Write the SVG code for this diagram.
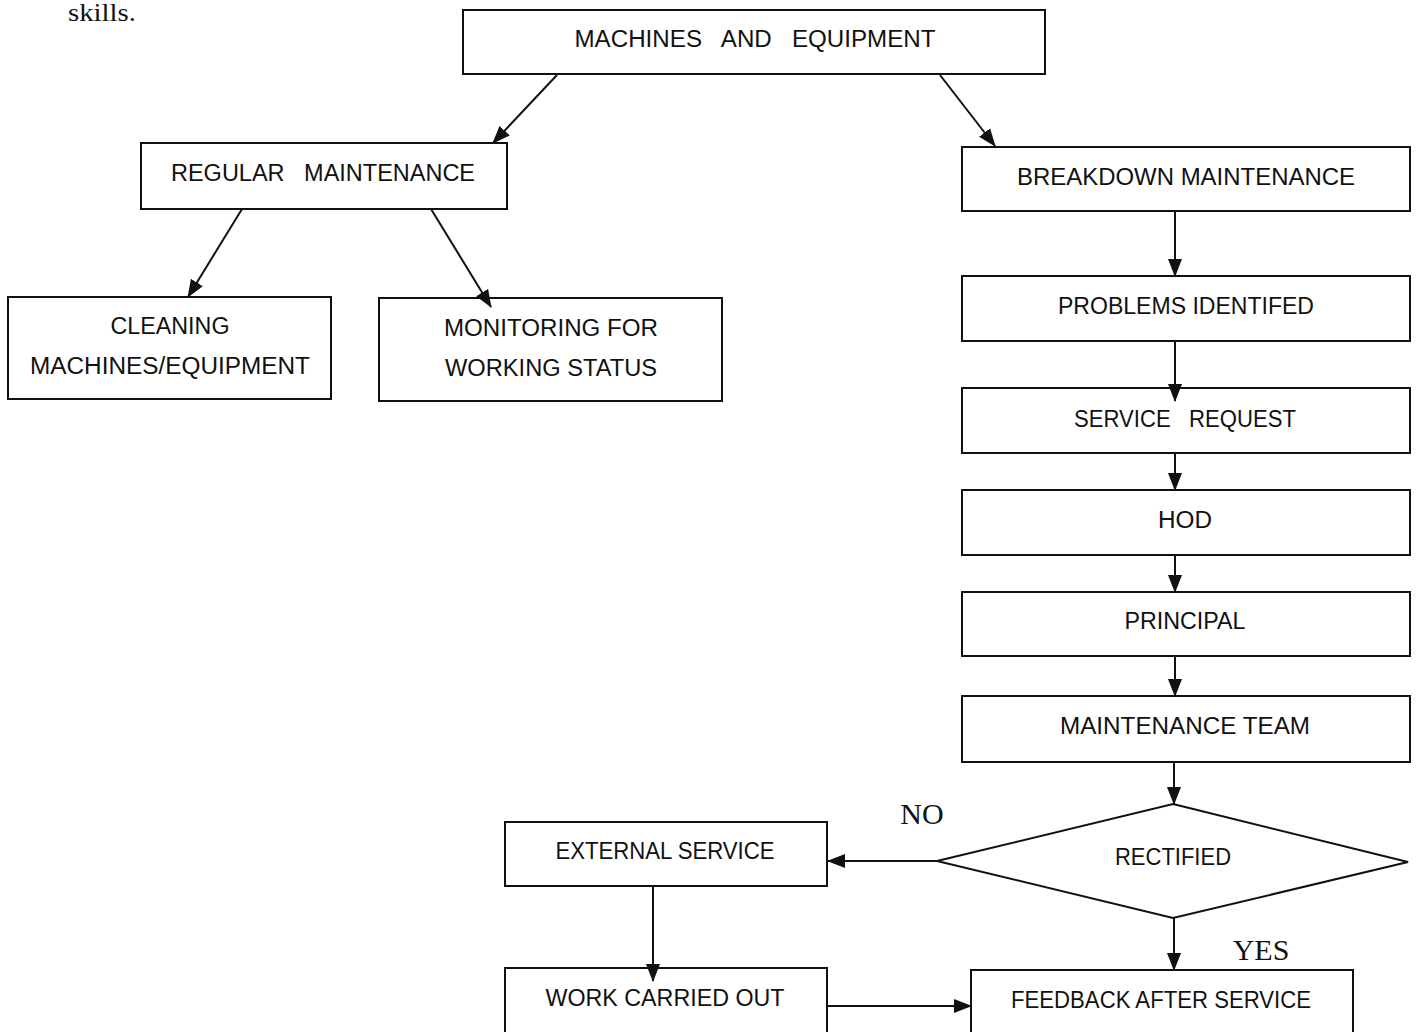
<svg xmlns="http://www.w3.org/2000/svg" width="1417" height="1032" viewBox="0 0 1417 1032">
<style>
.box{fill:#fff;stroke:#111;stroke-width:2}
.t{font-family:"Liberation Sans",Arial,sans-serif;font-size:23px;fill:#111;text-anchor:middle}
.s{font-family:"Liberation Serif","Times New Roman",serif;font-size:30px;fill:#111;text-anchor:middle}
.c{stroke:#111;stroke-width:2;fill:none;marker-end:url(#ah)}
</style>
<defs>
<marker id="ah" markerUnits="userSpaceOnUse" markerWidth="18" markerHeight="16" refX="17" refY="8" orient="auto">
<path d="M0,1 L18,8 L0,15 Z" fill="#111"/>
</marker>
</defs>
<rect width="1417" height="1032" fill="#fff"/>
<text x="68" y="21" font-family="Liberation Serif, serif" font-size="26" fill="#111" textLength="68" lengthAdjust="spacingAndGlyphs">skills.</text>
<g id="n-machines"><rect class="box" x="463" y="10" width="582" height="64"/><text class="t" x="755" y="47" textLength="361" lengthAdjust="spacingAndGlyphs" xml:space="preserve">MACHINES   AND   EQUIPMENT</text></g>
<g id="n-regular"><rect class="box" x="141" y="143" width="366" height="66"/><text class="t" x="323" y="181" textLength="304" lengthAdjust="spacingAndGlyphs" xml:space="preserve">REGULAR   MAINTENANCE</text></g>
<g id="n-cleaning"><rect class="box" x="8" y="297" width="323" height="102"/><text class="t" x="170" y="334" textLength="119" lengthAdjust="spacingAndGlyphs">CLEANING</text><text class="t" x="170" y="374" textLength="280" lengthAdjust="spacingAndGlyphs">MACHINES/EQUIPMENT</text></g>
<g id="n-monitoring"><rect class="box" x="379" y="298" width="343" height="103"/><text class="t" x="551" y="336" textLength="214" lengthAdjust="spacingAndGlyphs">MONITORING FOR</text><text class="t" x="551" y="376" textLength="212" lengthAdjust="spacingAndGlyphs">WORKING STATUS</text></g>
<g id="n-breakdown"><rect class="box" x="962" y="147" width="448" height="64"/><text class="t" x="1186" y="185" textLength="338" lengthAdjust="spacingAndGlyphs">BREAKDOWN MAINTENANCE</text></g>
<g id="n-problems"><rect class="box" x="962" y="276" width="448" height="65"/><text class="t" x="1186" y="314" textLength="256" lengthAdjust="spacingAndGlyphs">PROBLEMS IDENTIFED</text></g>
<g id="n-service"><rect class="box" x="962" y="388" width="448" height="65"/><text class="t" x="1185" y="427" textLength="222" lengthAdjust="spacingAndGlyphs" xml:space="preserve">SERVICE   REQUEST</text></g>
<g id="n-hod"><rect class="box" x="962" y="490" width="448" height="65"/><text class="t" x="1185" y="528" textLength="54" lengthAdjust="spacingAndGlyphs">HOD</text></g>
<g id="n-principal"><rect class="box" x="962" y="592" width="448" height="64"/><text class="t" x="1185" y="629" textLength="121" lengthAdjust="spacingAndGlyphs">PRINCIPAL</text></g>
<g id="n-team"><rect class="box" x="962" y="696" width="448" height="66"/><text class="t" x="1185" y="734" textLength="250" lengthAdjust="spacingAndGlyphs">MAINTENANCE TEAM</text></g>
<g id="n-rectified"><polygon class="box" points="1173,804 1408,862 1173,918 937,861"/><text class="t" x="1173" y="865" textLength="116" lengthAdjust="spacingAndGlyphs">RECTIFIED</text></g>
<g id="n-external"><rect class="box" x="505" y="822" width="322" height="64"/><text class="t" x="665" y="859" textLength="219" lengthAdjust="spacingAndGlyphs">EXTERNAL SERVICE</text></g>
<g id="n-work"><rect class="box" x="505" y="968" width="322" height="70"/><text class="t" x="665" y="1006" textLength="239" lengthAdjust="spacingAndGlyphs">WORK CARRIED OUT</text></g>
<g id="n-feedback"><rect class="box" x="971" y="970" width="382" height="70"/><text class="t" x="1161" y="1008" textLength="300" lengthAdjust="spacingAndGlyphs">FEEDBACK AFTER SERVICE</text></g>
<g id="connectors">
<line class="c" x1="557" y1="75" x2="493" y2="143"/>
<line class="c" x1="940" y1="75" x2="995" y2="146"/>
<line class="c" x1="242" y1="209" x2="188" y2="297"/>
<line class="c" x1="431" y1="209" x2="491" y2="307"/>
<line class="c" x1="1175" y1="211" x2="1175" y2="276"/>
<line class="c" x1="1175" y1="341" x2="1175" y2="401"/>
<line class="c" x1="1175" y1="453" x2="1175" y2="490"/>
<line class="c" x1="1175" y1="555" x2="1175" y2="592"/>
<line class="c" x1="1175" y1="656" x2="1175" y2="696"/>
<line class="c" x1="1174" y1="762" x2="1174" y2="804"/>
<line class="c" x1="937" y1="861" x2="828" y2="861"/>
<line class="c" x1="1174" y1="918" x2="1174" y2="970"/>
<line class="c" x1="653" y1="886" x2="653" y2="981"/>
<line class="c" x1="827" y1="1006" x2="971" y2="1006"/>
</g>
<g id="labels"><text class="s" x="922" y="824">NO</text><text class="s" x="1261" y="960">YES</text></g>
</svg>
